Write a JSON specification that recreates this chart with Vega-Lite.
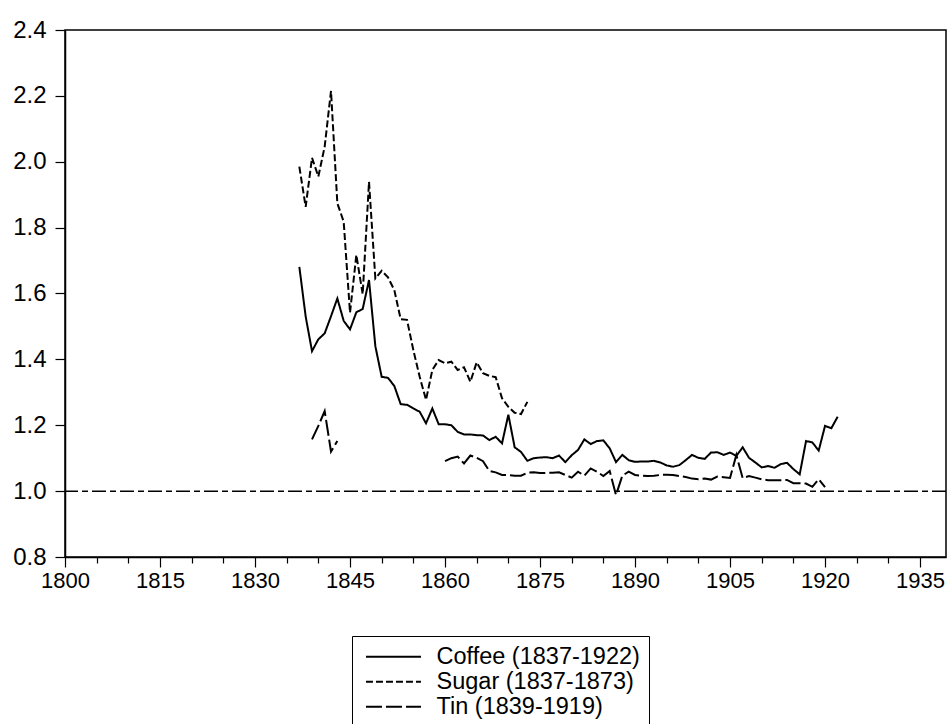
{
  "$schema": "https://vega.github.io/schema/vega-lite/v6.json",
  "width": 881,
  "height": 527,
  "autosize": {"type": "none"},
  "padding": {"left": 65, "top": 30, "right": 4, "bottom": 167},
  "background": "white",
  "config": {
    "view": {"stroke": "black", "strokeWidth": 1.5},
    "font": "Liberation Sans"
  },
  "datasets": {
    "series": [
      {"series": "Coffee (1837-1922)", "seg": "c", "year": 1837, "value": 1.681},
      {"series": "Coffee (1837-1922)", "seg": "c", "year": 1838, "value": 1.53},
      {"series": "Coffee (1837-1922)", "seg": "c", "year": 1839, "value": 1.425},
      {"series": "Coffee (1837-1922)", "seg": "c", "year": 1840, "value": 1.461},
      {"series": "Coffee (1837-1922)", "seg": "c", "year": 1841, "value": 1.479},
      {"series": "Coffee (1837-1922)", "seg": "c", "year": 1842, "value": 1.531},
      {"series": "Coffee (1837-1922)", "seg": "c", "year": 1843, "value": 1.585},
      {"series": "Coffee (1837-1922)", "seg": "c", "year": 1844, "value": 1.517},
      {"series": "Coffee (1837-1922)", "seg": "c", "year": 1845, "value": 1.491},
      {"series": "Coffee (1837-1922)", "seg": "c", "year": 1846, "value": 1.543},
      {"series": "Coffee (1837-1922)", "seg": "c", "year": 1847, "value": 1.553},
      {"series": "Coffee (1837-1922)", "seg": "c", "year": 1848, "value": 1.641},
      {"series": "Coffee (1837-1922)", "seg": "c", "year": 1849, "value": 1.44},
      {"series": "Coffee (1837-1922)", "seg": "c", "year": 1850, "value": 1.347},
      {"series": "Coffee (1837-1922)", "seg": "c", "year": 1851, "value": 1.344},
      {"series": "Coffee (1837-1922)", "seg": "c", "year": 1852, "value": 1.319},
      {"series": "Coffee (1837-1922)", "seg": "c", "year": 1853, "value": 1.264},
      {"series": "Coffee (1837-1922)", "seg": "c", "year": 1854, "value": 1.262},
      {"series": "Coffee (1837-1922)", "seg": "c", "year": 1855, "value": 1.251},
      {"series": "Coffee (1837-1922)", "seg": "c", "year": 1856, "value": 1.241},
      {"series": "Coffee (1837-1922)", "seg": "c", "year": 1857, "value": 1.206},
      {"series": "Coffee (1837-1922)", "seg": "c", "year": 1858, "value": 1.251},
      {"series": "Coffee (1837-1922)", "seg": "c", "year": 1859, "value": 1.203},
      {"series": "Coffee (1837-1922)", "seg": "c", "year": 1860, "value": 1.203},
      {"series": "Coffee (1837-1922)", "seg": "c", "year": 1861, "value": 1.2},
      {"series": "Coffee (1837-1922)", "seg": "c", "year": 1862, "value": 1.18},
      {"series": "Coffee (1837-1922)", "seg": "c", "year": 1863, "value": 1.172},
      {"series": "Coffee (1837-1922)", "seg": "c", "year": 1864, "value": 1.172},
      {"series": "Coffee (1837-1922)", "seg": "c", "year": 1865, "value": 1.17},
      {"series": "Coffee (1837-1922)", "seg": "c", "year": 1866, "value": 1.169},
      {"series": "Coffee (1837-1922)", "seg": "c", "year": 1867, "value": 1.155},
      {"series": "Coffee (1837-1922)", "seg": "c", "year": 1868, "value": 1.165},
      {"series": "Coffee (1837-1922)", "seg": "c", "year": 1869, "value": 1.145},
      {"series": "Coffee (1837-1922)", "seg": "c", "year": 1870, "value": 1.232},
      {"series": "Coffee (1837-1922)", "seg": "c", "year": 1871, "value": 1.133},
      {"series": "Coffee (1837-1922)", "seg": "c", "year": 1872, "value": 1.119},
      {"series": "Coffee (1837-1922)", "seg": "c", "year": 1873, "value": 1.092},
      {"series": "Coffee (1837-1922)", "seg": "c", "year": 1874, "value": 1.1},
      {"series": "Coffee (1837-1922)", "seg": "c", "year": 1875, "value": 1.102},
      {"series": "Coffee (1837-1922)", "seg": "c", "year": 1876, "value": 1.103},
      {"series": "Coffee (1837-1922)", "seg": "c", "year": 1877, "value": 1.1},
      {"series": "Coffee (1837-1922)", "seg": "c", "year": 1878, "value": 1.108},
      {"series": "Coffee (1837-1922)", "seg": "c", "year": 1879, "value": 1.088},
      {"series": "Coffee (1837-1922)", "seg": "c", "year": 1880, "value": 1.109},
      {"series": "Coffee (1837-1922)", "seg": "c", "year": 1881, "value": 1.125},
      {"series": "Coffee (1837-1922)", "seg": "c", "year": 1882, "value": 1.157},
      {"series": "Coffee (1837-1922)", "seg": "c", "year": 1883, "value": 1.143},
      {"series": "Coffee (1837-1922)", "seg": "c", "year": 1884, "value": 1.152},
      {"series": "Coffee (1837-1922)", "seg": "c", "year": 1885, "value": 1.154},
      {"series": "Coffee (1837-1922)", "seg": "c", "year": 1886, "value": 1.13},
      {"series": "Coffee (1837-1922)", "seg": "c", "year": 1887, "value": 1.088},
      {"series": "Coffee (1837-1922)", "seg": "c", "year": 1888, "value": 1.11},
      {"series": "Coffee (1837-1922)", "seg": "c", "year": 1889, "value": 1.094},
      {"series": "Coffee (1837-1922)", "seg": "c", "year": 1890, "value": 1.089},
      {"series": "Coffee (1837-1922)", "seg": "c", "year": 1891, "value": 1.09},
      {"series": "Coffee (1837-1922)", "seg": "c", "year": 1892, "value": 1.09},
      {"series": "Coffee (1837-1922)", "seg": "c", "year": 1893, "value": 1.092},
      {"series": "Coffee (1837-1922)", "seg": "c", "year": 1894, "value": 1.087},
      {"series": "Coffee (1837-1922)", "seg": "c", "year": 1895, "value": 1.078},
      {"series": "Coffee (1837-1922)", "seg": "c", "year": 1896, "value": 1.074},
      {"series": "Coffee (1837-1922)", "seg": "c", "year": 1897, "value": 1.079},
      {"series": "Coffee (1837-1922)", "seg": "c", "year": 1898, "value": 1.094},
      {"series": "Coffee (1837-1922)", "seg": "c", "year": 1899, "value": 1.11},
      {"series": "Coffee (1837-1922)", "seg": "c", "year": 1900, "value": 1.101},
      {"series": "Coffee (1837-1922)", "seg": "c", "year": 1901, "value": 1.098},
      {"series": "Coffee (1837-1922)", "seg": "c", "year": 1902, "value": 1.117},
      {"series": "Coffee (1837-1922)", "seg": "c", "year": 1903, "value": 1.118},
      {"series": "Coffee (1837-1922)", "seg": "c", "year": 1904, "value": 1.11},
      {"series": "Coffee (1837-1922)", "seg": "c", "year": 1905, "value": 1.117},
      {"series": "Coffee (1837-1922)", "seg": "c", "year": 1906, "value": 1.107},
      {"series": "Coffee (1837-1922)", "seg": "c", "year": 1907, "value": 1.133},
      {"series": "Coffee (1837-1922)", "seg": "c", "year": 1908, "value": 1.101},
      {"series": "Coffee (1837-1922)", "seg": "c", "year": 1909, "value": 1.087},
      {"series": "Coffee (1837-1922)", "seg": "c", "year": 1910, "value": 1.072},
      {"series": "Coffee (1837-1922)", "seg": "c", "year": 1911, "value": 1.076},
      {"series": "Coffee (1837-1922)", "seg": "c", "year": 1912, "value": 1.071},
      {"series": "Coffee (1837-1922)", "seg": "c", "year": 1913, "value": 1.082},
      {"series": "Coffee (1837-1922)", "seg": "c", "year": 1914, "value": 1.086},
      {"series": "Coffee (1837-1922)", "seg": "c", "year": 1915, "value": 1.067},
      {"series": "Coffee (1837-1922)", "seg": "c", "year": 1916, "value": 1.051},
      {"series": "Coffee (1837-1922)", "seg": "c", "year": 1917, "value": 1.152},
      {"series": "Coffee (1837-1922)", "seg": "c", "year": 1918, "value": 1.148},
      {"series": "Coffee (1837-1922)", "seg": "c", "year": 1919, "value": 1.123},
      {"series": "Coffee (1837-1922)", "seg": "c", "year": 1920, "value": 1.198},
      {"series": "Coffee (1837-1922)", "seg": "c", "year": 1921, "value": 1.191},
      {"series": "Coffee (1837-1922)", "seg": "c", "year": 1922, "value": 1.226},
      {"series": "Sugar (1837-1873)", "seg": "s", "year": 1837, "value": 1.985},
      {"series": "Sugar (1837-1873)", "seg": "s", "year": 1838, "value": 1.863},
      {"series": "Sugar (1837-1873)", "seg": "s", "year": 1839, "value": 2.012},
      {"series": "Sugar (1837-1873)", "seg": "s", "year": 1840, "value": 1.955},
      {"series": "Sugar (1837-1873)", "seg": "s", "year": 1841, "value": 2.046},
      {"series": "Sugar (1837-1873)", "seg": "s", "year": 1842, "value": 2.215},
      {"series": "Sugar (1837-1873)", "seg": "s", "year": 1843, "value": 1.874},
      {"series": "Sugar (1837-1873)", "seg": "s", "year": 1844, "value": 1.818},
      {"series": "Sugar (1837-1873)", "seg": "s", "year": 1845, "value": 1.542},
      {"series": "Sugar (1837-1873)", "seg": "s", "year": 1846, "value": 1.717},
      {"series": "Sugar (1837-1873)", "seg": "s", "year": 1847, "value": 1.598},
      {"series": "Sugar (1837-1873)", "seg": "s", "year": 1848, "value": 1.939},
      {"series": "Sugar (1837-1873)", "seg": "s", "year": 1849, "value": 1.646},
      {"series": "Sugar (1837-1873)", "seg": "s", "year": 1850, "value": 1.669},
      {"series": "Sugar (1837-1873)", "seg": "s", "year": 1851, "value": 1.649},
      {"series": "Sugar (1837-1873)", "seg": "s", "year": 1852, "value": 1.61},
      {"series": "Sugar (1837-1873)", "seg": "s", "year": 1853, "value": 1.522},
      {"series": "Sugar (1837-1873)", "seg": "s", "year": 1854, "value": 1.52},
      {"series": "Sugar (1837-1873)", "seg": "s", "year": 1855, "value": 1.428},
      {"series": "Sugar (1837-1873)", "seg": "s", "year": 1856, "value": 1.347},
      {"series": "Sugar (1837-1873)", "seg": "s", "year": 1857, "value": 1.277},
      {"series": "Sugar (1837-1873)", "seg": "s", "year": 1858, "value": 1.368},
      {"series": "Sugar (1837-1873)", "seg": "s", "year": 1859, "value": 1.398},
      {"series": "Sugar (1837-1873)", "seg": "s", "year": 1860, "value": 1.388},
      {"series": "Sugar (1837-1873)", "seg": "s", "year": 1861, "value": 1.393},
      {"series": "Sugar (1837-1873)", "seg": "s", "year": 1862, "value": 1.368},
      {"series": "Sugar (1837-1873)", "seg": "s", "year": 1863, "value": 1.376},
      {"series": "Sugar (1837-1873)", "seg": "s", "year": 1864, "value": 1.332},
      {"series": "Sugar (1837-1873)", "seg": "s", "year": 1865, "value": 1.391},
      {"series": "Sugar (1837-1873)", "seg": "s", "year": 1866, "value": 1.358},
      {"series": "Sugar (1837-1873)", "seg": "s", "year": 1867, "value": 1.35},
      {"series": "Sugar (1837-1873)", "seg": "s", "year": 1868, "value": 1.346},
      {"series": "Sugar (1837-1873)", "seg": "s", "year": 1869, "value": 1.282},
      {"series": "Sugar (1837-1873)", "seg": "s", "year": 1870, "value": 1.256},
      {"series": "Sugar (1837-1873)", "seg": "s", "year": 1871, "value": 1.238},
      {"series": "Sugar (1837-1873)", "seg": "s", "year": 1872, "value": 1.234},
      {"series": "Sugar (1837-1873)", "seg": "s", "year": 1873, "value": 1.271},
      {"series": "Tin (1839-1919)", "seg": "t1", "year": 1839, "value": 1.157},
      {"series": "Tin (1839-1919)", "seg": "t1", "year": 1840, "value": 1.198},
      {"series": "Tin (1839-1919)", "seg": "t1", "year": 1841, "value": 1.243},
      {"series": "Tin (1839-1919)", "seg": "t1", "year": 1842, "value": 1.12},
      {"series": "Tin (1839-1919)", "seg": "t1", "year": 1843, "value": 1.152},
      {"series": "Tin (1839-1919)", "seg": "t2", "year": 1860, "value": 1.091},
      {"series": "Tin (1839-1919)", "seg": "t2", "year": 1861, "value": 1.1},
      {"series": "Tin (1839-1919)", "seg": "t2", "year": 1862, "value": 1.105},
      {"series": "Tin (1839-1919)", "seg": "t2", "year": 1863, "value": 1.084},
      {"series": "Tin (1839-1919)", "seg": "t2", "year": 1864, "value": 1.108},
      {"series": "Tin (1839-1919)", "seg": "t2", "year": 1865, "value": 1.101},
      {"series": "Tin (1839-1919)", "seg": "t2", "year": 1866, "value": 1.091},
      {"series": "Tin (1839-1919)", "seg": "t2", "year": 1867, "value": 1.061},
      {"series": "Tin (1839-1919)", "seg": "t2", "year": 1868, "value": 1.057},
      {"series": "Tin (1839-1919)", "seg": "t2", "year": 1869, "value": 1.049},
      {"series": "Tin (1839-1919)", "seg": "t2", "year": 1870, "value": 1.049},
      {"series": "Tin (1839-1919)", "seg": "t2", "year": 1871, "value": 1.047},
      {"series": "Tin (1839-1919)", "seg": "t2", "year": 1872, "value": 1.047},
      {"series": "Tin (1839-1919)", "seg": "t2", "year": 1873, "value": 1.056},
      {"series": "Tin (1839-1919)", "seg": "t2", "year": 1874, "value": 1.057},
      {"series": "Tin (1839-1919)", "seg": "t2", "year": 1875, "value": 1.055},
      {"series": "Tin (1839-1919)", "seg": "t2", "year": 1876, "value": 1.055},
      {"series": "Tin (1839-1919)", "seg": "t2", "year": 1877, "value": 1.056},
      {"series": "Tin (1839-1919)", "seg": "t2", "year": 1878, "value": 1.057},
      {"series": "Tin (1839-1919)", "seg": "t2", "year": 1879, "value": 1.049},
      {"series": "Tin (1839-1919)", "seg": "t2", "year": 1880, "value": 1.041},
      {"series": "Tin (1839-1919)", "seg": "t2", "year": 1881, "value": 1.059},
      {"series": "Tin (1839-1919)", "seg": "t2", "year": 1882, "value": 1.047},
      {"series": "Tin (1839-1919)", "seg": "t2", "year": 1883, "value": 1.069},
      {"series": "Tin (1839-1919)", "seg": "t2", "year": 1884, "value": 1.059},
      {"series": "Tin (1839-1919)", "seg": "t2", "year": 1885, "value": 1.046},
      {"series": "Tin (1839-1919)", "seg": "t2", "year": 1886, "value": 1.061},
      {"series": "Tin (1839-1919)", "seg": "t2", "year": 1887, "value": 0.988},
      {"series": "Tin (1839-1919)", "seg": "t2", "year": 1888, "value": 1.047},
      {"series": "Tin (1839-1919)", "seg": "t2", "year": 1889, "value": 1.059},
      {"series": "Tin (1839-1919)", "seg": "t2", "year": 1890, "value": 1.049},
      {"series": "Tin (1839-1919)", "seg": "t2", "year": 1891, "value": 1.047},
      {"series": "Tin (1839-1919)", "seg": "t2", "year": 1892, "value": 1.046},
      {"series": "Tin (1839-1919)", "seg": "t2", "year": 1893, "value": 1.047},
      {"series": "Tin (1839-1919)", "seg": "t2", "year": 1894, "value": 1.049},
      {"series": "Tin (1839-1919)", "seg": "t2", "year": 1895, "value": 1.05},
      {"series": "Tin (1839-1919)", "seg": "t2", "year": 1896, "value": 1.049},
      {"series": "Tin (1839-1919)", "seg": "t2", "year": 1897, "value": 1.046},
      {"series": "Tin (1839-1919)", "seg": "t2", "year": 1898, "value": 1.043},
      {"series": "Tin (1839-1919)", "seg": "t2", "year": 1899, "value": 1.038},
      {"series": "Tin (1839-1919)", "seg": "t2", "year": 1900, "value": 1.036},
      {"series": "Tin (1839-1919)", "seg": "t2", "year": 1901, "value": 1.038},
      {"series": "Tin (1839-1919)", "seg": "t2", "year": 1902, "value": 1.035},
      {"series": "Tin (1839-1919)", "seg": "t2", "year": 1903, "value": 1.044},
      {"series": "Tin (1839-1919)", "seg": "t2", "year": 1904, "value": 1.042},
      {"series": "Tin (1839-1919)", "seg": "t2", "year": 1905, "value": 1.04},
      {"series": "Tin (1839-1919)", "seg": "t2", "year": 1906, "value": 1.11},
      {"series": "Tin (1839-1919)", "seg": "t2", "year": 1907, "value": 1.039},
      {"series": "Tin (1839-1919)", "seg": "t2", "year": 1908, "value": 1.046},
      {"series": "Tin (1839-1919)", "seg": "t2", "year": 1909, "value": 1.041},
      {"series": "Tin (1839-1919)", "seg": "t2", "year": 1910, "value": 1.036},
      {"series": "Tin (1839-1919)", "seg": "t2", "year": 1911, "value": 1.033},
      {"series": "Tin (1839-1919)", "seg": "t2", "year": 1912, "value": 1.033},
      {"series": "Tin (1839-1919)", "seg": "t2", "year": 1913, "value": 1.033},
      {"series": "Tin (1839-1919)", "seg": "t2", "year": 1914, "value": 1.034},
      {"series": "Tin (1839-1919)", "seg": "t2", "year": 1915, "value": 1.024},
      {"series": "Tin (1839-1919)", "seg": "t2", "year": 1916, "value": 1.024},
      {"series": "Tin (1839-1919)", "seg": "t2", "year": 1917, "value": 1.023},
      {"series": "Tin (1839-1919)", "seg": "t2", "year": 1918, "value": 1.013},
      {"series": "Tin (1839-1919)", "seg": "t2", "year": 1919, "value": 1.036},
      {"series": "Tin (1839-1919)", "seg": "t2", "year": 1920, "value": 1.012}
    ]
  },
  "layer": [
    {
      "data": {"values": [{"ref": 1.0}]},
      "mark": {"type": "rule", "color": "black", "strokeWidth": 1.5, "strokeDash": [14, 4, 6, 4]},
      "encoding": {
        "y": {"field": "ref", "type": "quantitative"}
      }
    },
    {
      "data": {"name": "series"},
      "mark": {"type": "line", "color": "black", "strokeWidth": 2, "clip": true},
      "encoding": {
        "x": {
          "field": "year",
          "type": "quantitative",
          "scale": {"domain": [1800, 1939.1], "nice": false, "zero": false},
          "axis": {
            "title": null,
            "values": [1800, 1805, 1810, 1815, 1820, 1825, 1830, 1835, 1840, 1845, 1850, 1855, 1860, 1865, 1870, 1875, 1880, 1885, 1890, 1895, 1900, 1905, 1910, 1915, 1920, 1925, 1930, 1935],
            "format": "d",
            "labelExpr": "datum.value % 15 === 0 ? datum.label : ''",
            "tickSize": {"expr": "datum.value % 15 === 0 ? 10 : 6"},
            "tickColor": "black",
            "tickWidth": 1.2,
            "domainColor": "black",
            "domainWidth": 1.5,
            "labelFont": "Liberation Sans",
            "labelFontSize": 22,
            "labelColor": "black",
            "labelPadding": 3,
            "labelOverlap": false,
            "labelFlush": false,
            "grid": false
          }
        },
        "y": {
          "field": "value",
          "type": "quantitative",
          "scale": {"domain": [0.8, 2.4], "nice": false, "zero": false},
          "axis": {
            "title": null,
            "values": [0.8, 1.0, 1.2, 1.4, 1.6, 1.8, 2.0, 2.2, 2.4],
            "format": ".1f",
            "tickSize": 10,
            "tickColor": "black",
            "tickWidth": 1.2,
            "domainColor": "black",
            "domainWidth": 1.5,
            "labelFont": "Liberation Sans",
            "labelFontSize": 24,
            "labelColor": "black",
            "labelPadding": 9,
            "labelFlush": false,
            "labelOverlap": false,
            "grid": false
          }
        },
        "detail": {"field": "seg"},
        "strokeDash": {
          "field": "series",
          "type": "nominal",
          "scale": {
            "domain": ["Coffee (1837-1922)", "Sugar (1837-1873)", "Tin (1839-1919)"],
            "range": [[1, 0], [7, 3], [16, 4]]
          },
          "legend": {
            "title": null,
            "orient": "none",
            "legendX": 287,
            "legendY": 606,
            "symbolType": "M-0.985,0H7.015",
            "symbolSize": 189,
            "symbolStrokeColor": "black",
            "symbolStrokeWidth": 1.8,
            "labelFont": "Liberation Sans",
            "labelFontSize": 23.5,
            "labelColor": "black",
            "labelOffset": 52,
            "rowPadding": 0,
            "padding": 9,
            "strokeColor": "black",
            "fillColor": "white",
            "labelLimit": 400
          }
        }
      }
    }
  ]
}
